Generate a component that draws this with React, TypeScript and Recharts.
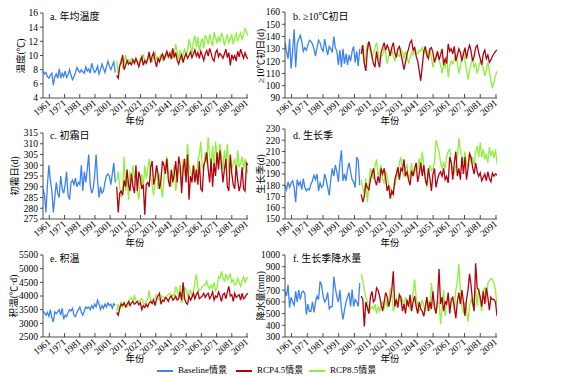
import React from "react";
import { LineChart, Line, XAxis, YAxis } from "recharts";

// 年份：Baseline 1961-2010，RCP 情景 2011-2100
const BASE_START = 1961;
const SCEN_START = 2011;
const xLabels = [1961, 1971, 1981, 1991, 2001, 2011, 2021, 2031, 2041, 2051, 2061, 2071, 2081, 2091];

// a. 年均温度
const tempBase = [
  7.8, 7.4, 7.6, 7.0, 6.8, 7.2, 7.5, 5.8, 7.0, 7.4,
  6.8, 8.1, 6.8, 7.5, 7.0, 7.8, 6.9, 7.3, 8.0, 7.2,
  6.6, 7.0, 7.6, 8.3, 7.9, 7.6, 8.0, 7.7, 7.5, 8.4,
  7.8, 8.1, 7.5, 8.9, 8.2, 7.6, 7.9, 8.5, 7.4, 8.0,
  8.8, 8.2, 7.6, 8.4, 9.2, 8.5, 8.0, 8.6, 9.1, 7.6,
];
const tempR45 = [
  7.2, 6.8, 8.5, 9.0, 10.1, 8.0, 8.6, 9.3, 8.8, 9.0,
  8.7, 9.4, 8.9, 9.6, 9.0, 8.4, 9.2, 9.8, 8.6, 9.3,
  8.9, 9.5, 10.5, 9.0, 9.9, 10.4, 9.2, 8.4, 9.6, 9.1,
  9.8, 10.2, 9.4, 10.0, 10.6, 9.8, 10.3, 9.5, 11.0, 9.7,
  10.4, 9.3, 8.8, 9.6, 10.1, 9.0, 9.8, 10.3, 9.6, 10.0,
  10.5, 9.7, 10.2, 10.8, 9.9, 10.4, 9.6, 10.6, 10.0, 9.3,
  10.2, 10.7, 9.9, 11.0, 10.3, 9.5, 9.2, 10.4, 10.8, 9.8,
  10.3, 10.0, 9.6, 10.2, 10.9, 9.7, 10.4, 8.6, 10.1, 9.5,
  10.0, 9.2, 10.6, 9.8, 10.9, 10.2, 9.6, 10.4, 9.8, 9.5,
];
const tempR85 = [
  9.2, 7.4, 8.6, 9.6, 8.4, 9.0, 10.1, 8.9, 9.4, 9.1,
  9.6, 9.3, 9.0, 9.5, 9.2, 8.9, 9.6, 9.3, 10.2, 9.2,
  9.0, 9.7, 10.3, 9.4, 9.1, 9.8, 10.4, 9.5, 9.2, 9.7,
  10.1, 9.4, 10.0, 9.6, 10.3, 9.8, 10.0, 10.6, 9.7, 10.2,
  11.6, 10.4, 9.4, 10.8, 9.3, 10.2, 11.0, 9.8, 10.6, 12.3,
  11.4, 10.2, 12.1, 12.8, 11.2, 12.6, 10.6, 11.8, 12.4, 11.0,
  12.9, 12.4, 11.6, 13.0, 12.1, 11.3, 13.3, 12.5, 11.8, 12.7,
  11.9, 13.2, 12.6, 11.4, 12.2, 13.0, 11.8, 12.4, 12.9, 11.6,
  12.5, 13.1, 12.0, 12.8, 13.2, 12.3, 13.0, 13.8, 13.3, 12.8,
];

// b. ≥10℃初日
const onsetBase = [
  135, 128, 122, 138, 114, 128, 146, 115, 134, 138,
  141, 136, 128, 131, 129, 133, 137, 136, 134, 130,
  124, 131, 137, 135, 130, 128, 138, 131, 125, 132,
  130, 127, 140, 131, 128, 117, 129, 115, 130, 118,
  126, 117, 125, 120, 128, 132, 119, 128, 116, 130,
];
const onsetR45 = [
  126, 133, 118, 112, 129, 136, 131, 124, 118, 115,
  128, 120, 115, 127, 131, 135, 129, 133, 130, 124,
  131, 135, 127, 123, 130, 132, 126, 120, 113, 119,
  126, 130, 135, 137, 129, 131, 124, 120, 112, 104,
  116, 128, 132, 125, 122, 130, 131, 127, 119, 123,
  128, 121, 125, 130, 117, 122, 118, 134, 128, 130,
  126, 132, 120, 125, 130, 127, 120, 126, 131, 122,
  129, 133, 128, 120, 124, 131, 133, 127, 122, 117,
  126, 129, 122, 125, 119, 121, 124, 126, 128, 129,
];
const onsetR85 = [
  132, 126, 118, 124, 135, 130, 128, 122, 126, 131,
  135, 128, 120, 124, 125, 130, 127, 118, 124, 128,
  130, 125, 120, 126, 125, 124, 130, 127, 122, 128,
  124, 118, 123, 127, 125, 131, 127, 126, 129, 128,
  131, 126, 129, 124, 128, 130, 123, 115, 120, 125,
  128, 121, 117, 110, 118, 115, 124, 107, 116, 120,
  118, 122, 125, 119, 110, 116, 122, 128, 120, 113,
  105, 112, 118, 122, 115, 118, 110, 115, 120, 118,
  114, 108, 113, 119, 112, 104, 98, 103, 108, 112,
];

// c. 初霜日
const frostBase = [
  289, 286, 278, 291, 300, 293, 288, 278, 285, 292,
  287, 285, 295, 289, 287, 291, 297, 286, 284, 292,
  293, 291, 294, 290, 292, 291, 300, 288, 297, 292,
  298, 305, 291, 287, 289, 295, 305, 293, 285, 290,
  287, 288, 292, 295, 296, 295, 291, 296, 301, 292,
];
const frostR45 = [
  290, 278, 287, 288, 286, 293, 290, 298, 291, 288,
  296, 290, 287, 300, 288, 297, 294, 289, 291, 277,
  291, 292, 290, 299, 302, 291, 294, 300, 296, 289,
  293, 302, 300, 296, 303, 293, 290, 298, 292, 296,
  302, 292, 304, 300, 287, 298, 303, 292, 305, 284,
  295, 292, 300, 292, 298, 291, 302, 289, 288, 300,
  302, 306, 298, 292, 303, 290, 301, 295, 306, 298,
  307, 300, 292, 298, 303, 290, 288, 305, 296, 291,
  289, 300, 293, 288, 291, 299, 289, 288, 301, 300,
];
const frostR85 = [
  293, 297, 290, 285, 288, 304, 288, 295, 284, 297,
  293, 300, 294, 296, 288, 284, 293, 296, 289, 300,
  294, 298, 303, 295, 291, 286, 293, 300, 289, 296,
  291, 285, 294, 300, 304, 297, 293, 290, 296, 300,
  288, 294, 299, 296, 292, 303, 295, 298, 310, 300,
  297, 295, 300, 298, 293, 302, 305, 311, 299, 298,
  306, 301, 313, 304, 300, 309, 298, 311, 304, 302,
  310, 304, 298, 307, 301, 310, 296, 304, 298, 301,
  303, 296, 307, 299, 301, 304, 298, 303, 300, 296,
];

// d. 生长季
const seasonBase = [
  180, 176, 183, 178, 182, 184, 178, 165, 185, 180,
  183, 176, 186, 178, 175, 177, 176, 181, 184, 189,
  185, 190, 175, 182, 178, 180, 190, 185, 178, 171,
  185, 195, 188, 198, 192, 183, 200, 211, 184, 190,
  184, 194, 200, 192, 185, 183, 178, 205, 202, 180,
];
const seasonR45 = [
  172, 165, 170, 182, 178, 176, 185, 190, 195, 185,
  180, 188, 182, 195, 190, 195, 186, 175, 180, 168,
  175, 172, 185, 190, 196, 185, 195, 193, 203, 188,
  192, 185, 180, 193, 188, 195, 200, 183, 190, 200,
  188, 198, 185, 180, 195, 186, 175, 190, 195, 178,
  185, 190, 192, 188, 195, 185, 188, 182, 205, 200,
  185, 200, 210, 188, 195, 185, 205, 190, 205, 185,
  195, 208, 205, 196, 190, 200, 192, 188, 191, 184,
  187, 190, 184, 192, 186, 183, 191, 188, 190, 189,
];
const seasonR85 = [
  185, 178, 172, 186, 165, 180, 195, 190, 185, 197,
  203, 188, 192, 198, 185, 182, 192, 188, 180, 178,
  172, 175, 180, 186, 190, 200, 205, 192, 188, 195,
  198, 185, 190, 200, 188, 192, 195, 195, 204, 195,
  210, 198, 188, 178, 190, 198, 193, 195, 200, 220,
  215, 210, 200, 195, 200, 195, 205, 210, 212, 200,
  195, 190, 198, 205, 222, 210, 205, 200, 210, 200,
  196, 210, 200, 205, 198, 210, 215, 205, 218, 205,
  212, 203, 208, 200, 214, 206, 211, 204, 212, 199,
];

// e. 积温
const accBase = [
  3450, 3380, 3300, 3400, 3250, 3500, 3200, 3050, 3420, 3350,
  3420, 3500, 3300, 3550, 3150, 3300, 3250, 3400, 3500, 3450,
  3550, 3300, 3250, 3400, 3500, 3600, 3400, 3300, 3450, 3600,
  3550, 3600, 3500, 3650, 3550, 3700, 3600, 3850, 3700, 3500,
  3650, 3550, 3700, 3600, 3750, 3650, 3700, 3550, 3720, 3650,
];
const accR45 = [
  3400, 3300, 3550, 3700, 3650, 3750, 3600, 3700, 3800, 3650,
  3750, 3800, 3700, 3750, 3800, 3680, 3750, 3500, 3650, 3580,
  3700, 3600, 3750, 3800, 3720, 3850, 3650, 3900, 4000, 4100,
  3700, 3850, 3800, 3950, 3900, 3800, 3950, 4000, 3850, 3900,
  4000, 3850, 3900, 4150, 3850, 4500, 3900, 3750, 3700, 4000,
  3850, 3950, 4100, 3900, 4050, 4150, 3900, 3950, 4000, 4100,
  3950, 4050, 4100, 3900, 4000, 4150, 3850, 4000, 3950, 4150,
  4000, 3800, 4050, 4100, 3900, 4150, 4350, 4000, 4050, 3800,
  4100, 3950, 4000, 4050, 3850, 4100, 3900, 3950, 4050, 4100,
];
const accR85 = [
  3450, 3700, 3500, 3800, 3600, 3750, 3650, 3600, 3700, 3900,
  3950, 3800, 4000, 3850, 3800, 3820, 3850, 3900, 3750, 3700,
  3800, 3900, 4200, 3800, 3850, 3900, 3950, 4050, 3900, 3850,
  3900, 4000, 3950, 3900, 4000, 4050, 4100, 3950, 4050, 4000,
  4350, 4200, 3950, 4400, 3750, 3900, 4300, 4250, 4000, 4100,
  4200, 4000, 4150, 4500, 4800, 4300, 4200, 4250, 4350, 4400,
  4400, 4550, 4350, 4250, 4400, 4300, 4500, 4200, 4300, 4700,
  4650, 4900, 4650, 4550, 4800, 4600, 4700, 4800, 4500, 4600,
  4400, 4450, 4650, 4500, 4350, 4550, 4700, 4500, 4650, 4650,
];

// f. 生长季降水量
const rainBase = [
  690, 650, 745, 550, 640, 600, 570, 690, 600, 700,
  620, 680, 690, 670, 490, 580, 520, 520, 600, 510,
  600, 650, 620, 775, 740, 650, 600, 620, 680, 540,
  560, 560, 815, 720, 640, 600, 700, 540, 450, 530,
  600, 640, 680, 560, 705, 560, 620, 600, 560, 760,
];
const rainR45 = [
  650, 620, 390, 600, 550, 500, 640, 690, 600, 620,
  720, 700, 650, 580, 520, 600, 680, 640, 560, 620,
  700, 860, 560, 620, 550, 660, 640, 520, 580, 500,
  620, 560, 660, 520, 600, 650, 560, 500, 600, 540,
  520, 476, 560, 640, 520, 600, 540, 690, 560, 500,
  620, 880, 580, 640, 520, 600, 580, 680, 500, 620,
  640, 560, 460, 600, 680, 580, 700, 600, 480, 620,
  700, 840, 740, 600, 520, 930, 720, 700, 640, 560,
  690, 580, 720, 640, 530, 640, 620, 620, 600, 480,
];
const rainR85 = [
  840, 780, 700, 640, 600, 500, 540, 560, 540, 580,
  500, 560, 520, 580, 600, 540, 620, 560, 600, 720,
  680, 520, 560, 640, 580, 680, 600, 620, 560, 640,
  600, 560, 540, 600, 680, 790, 640, 560, 520, 560,
  620, 560, 520, 640, 600, 520, 760, 640, 560, 500,
  580, 600, 410, 560, 700, 480, 600, 620, 560, 600,
  640, 520, 700, 780, 920, 700, 560, 500, 600, 540,
  430, 560, 620, 580, 640, 720, 560, 720, 600, 520,
  700, 720, 600, 760, 780, 800, 790, 760, 700, 560,
];

const BLUE = "#3b82f6";
const RED = "#b5000f";
const GREEN = "#8ef03c";
const FONT = '"Liberation Serif", "Times New Roman", "Noto Sans CJK SC", serif';

function buildRows(base: number[], r45: number[], r85: number[]) {
  const rows: any[] = [];
  base.forEach((v, i) => rows.push({ year: BASE_START + i, base: v }));
  r45.forEach((v, i) => rows.push({ year: SCEN_START + i, r45: v, r85: r85[i] }));
  return rows;
}

// tick marks sit a few years in from the axis start in the original
const TICK0 = 1965.3;
const TICK_STEP = 1.031;
const xTickPos = xLabels.map((l) => TICK0 + (l - 1961) * TICK_STEP);

const XTick = (props: any) => {
  const { x, y, payload } = props;
  const label = Math.round((payload.value - TICK0) / TICK_STEP + 1961);
  const tx = x + 2;
  const ty = y + 6;
  return (
    <g>
      <line x1={x} x2={x} y1={y} y2={y - 4} stroke="#222" strokeWidth={0.8} />
      <text
        x={tx}
        y={ty}
        transform={`rotate(-40 ${tx} ${ty})`}
        textAnchor="end"
        fontSize={9.5}
        fontFamily={FONT}
        fill="#000"
      >
        {label}
      </text>
    </g>
  );
};

type PanelProps = {
  left: number;
  width: number;
  plotTop: number;
  plotH: number;
  marginLeft: number;
  base: number[];
  r45: number[];
  r85: number[];
  domain: [number, number];
  yTicks: number[];
};

function Panel(p: PanelProps) {
  const data = buildRows(p.base, p.r45, p.r85);
  const mTop = 5;
  const xH = 26;
  return (
    <div style={{ position: "absolute", left: p.left, top: p.plotTop - mTop }}>
      <LineChart
        width={p.width}
        height={mTop + p.plotH + xH}
        data={data}
        margin={{ top: mTop, right: 5, left: p.marginLeft, bottom: 0 }}
      >
        <XAxis
          dataKey="year"
          type="number"
          domain={[1961, 2100]}
          ticks={xTickPos}
          interval={0}
          tickSize={0}
          tickMargin={0}
          tickLine={false}
          tick={<XTick />}
          height={xH}
          axisLine={{ stroke: "#222", strokeWidth: 0.8 }}
          allowDataOverflow
        />
        <YAxis
          type="number"
          domain={p.domain}
          ticks={p.yTicks}
          interval={0}
          width={40}
          tickSize={3}
          tickMargin={2}
          tick={{ fontSize: 9.5, fill: "#000", fontFamily: FONT }}
          tickLine={{ stroke: "#222", strokeWidth: 0.8 }}
          axisLine={{ stroke: "#222", strokeWidth: 0.8 }}
          allowDataOverflow
        />
        <Line dataKey="base" stroke={BLUE} strokeWidth={1.3} dot={false} isAnimationActive={false} />
        <Line dataKey="r85" stroke={GREEN} strokeWidth={1.3} dot={false} isAnimationActive={false} />
        <Line dataKey="r45" stroke={RED} strokeWidth={1.3} dot={false} isAnimationActive={false} />
      </LineChart>
    </div>
  );
}

const textStyle: React.CSSProperties = {
  position: "absolute",
  fontFamily: FONT,
  fontSize: 9.5,
  lineHeight: "11px",
  whiteSpace: "nowrap",
  color: "#000",
};

function YLabel({ x, y, text }: { x: number; y: number; text: string }) {
  return (
    <div style={{ ...textStyle, left: x, top: y, transform: "translate(-50%, -50%) rotate(-90deg)" }}>{text}</div>
  );
}

function Centered({ x, y, text }: { x: number; y: number; text: string }) {
  return <div style={{ ...textStyle, left: x, top: y, transform: "translate(-50%, -50%)" }}>{text}</div>;
}

function Title({ x, y, text }: { x: number; y: number; text: string }) {
  return <div style={{ ...textStyle, fontSize: 10, left: x, top: y - 6 }}>{text}</div>;
}

function LegendItem({ x, color, text }: { x: number; color: string; text: string }) {
  return (
    <div style={{ ...textStyle, fontSize: 9, left: x, top: 365, display: "flex", alignItems: "center" }}>
      <span style={{ display: "inline-block", width: 16, height: 2, background: color, marginRight: 5 }} />
      <span>{text}</span>
    </div>
  );
}

export default function App() {
  const L = { left: 0, width: 253, marginLeft: 3 };
  const R = { left: 240, width: 262, marginLeft: 5 };
  return (
    <div style={{ position: "absolute", left: 0, top: 0, width: 571, height: 376, background: "#fff" }}>
      <Panel {...L} plotTop={13} plotH={85} base={tempBase} r45={tempR45} r85={tempR85}
        domain={[4, 16]} yTicks={[4, 6, 8, 10, 12, 14, 16]} />
      <Panel {...R} plotTop={12} plotH={86} base={onsetBase} r45={onsetR45} r85={onsetR85}
        domain={[90, 160]} yTicks={[90, 100, 110, 120, 130, 140, 150, 160]} />
      <Panel {...L} plotTop={133} plotH={86} base={frostBase} r45={frostR45} r85={frostR85}
        domain={[275, 315]} yTicks={[275, 280, 285, 290, 295, 300, 305, 310, 315]} />
      <Panel {...R} plotTop={129} plotH={90} base={seasonBase} r45={seasonR45} r85={seasonR85}
        domain={[150, 230]} yTicks={[150, 160, 170, 180, 190, 200, 210, 220, 230]} />
      <Panel {...L} plotTop={255} plotH={82} base={accBase} r45={accR45} r85={accR85}
        domain={[2500, 5500]} yTicks={[2500, 3000, 3500, 4000, 4500, 5000, 5500]} />
      <Panel {...R} plotTop={255} plotH={82} base={rainBase} r45={rainR45} r85={rainR85}
        domain={[300, 1000]} yTicks={[300, 400, 500, 600, 700, 800, 900, 1000]} />

      <Title x={50} y={17} text="a. 年均温度" />
      <Title x={293} y={17} text="b. ≥10℃初日" />
      <Title x={50} y={136} text="c. 初霜日" />
      <Title x={293} y={136} text="d. 生长季" />
      <Title x={50} y={259} text="e. 积温" />
      <Title x={293} y={259} text="f. 生长季降水量" />

      <YLabel x={21} y={56} text="温度(℃)" />
      <YLabel x={261} y={56} text="≥10℃初日(d)" />
      <YLabel x={15} y={176} text="初霜日(d)" />
      <YLabel x={261} y={174} text="生长季(d)" />
      <YLabel x={14} y={296} text="积温(℃·d)" />
      <YLabel x={261} y={296} text="降水量(mm)" />

      <Centered x={135} y={121} text="年份" />
      <Centered x={390} y={121} text="年份" />
      <Centered x={135} y={243} text="年份" />
      <Centered x={390} y={243} text="年份" />
      <Centered x={135} y={359} text="年份" />
      <Centered x={390} y={359} text="年份" />

      <LegendItem x={157} color={BLUE} text="Baseline情景" />
      <LegendItem x={236} color={RED} text="RCP4.5情景" />
      <LegendItem x={309} color={GREEN} text="RCP8.5情景" />
    </div>
  );
}
